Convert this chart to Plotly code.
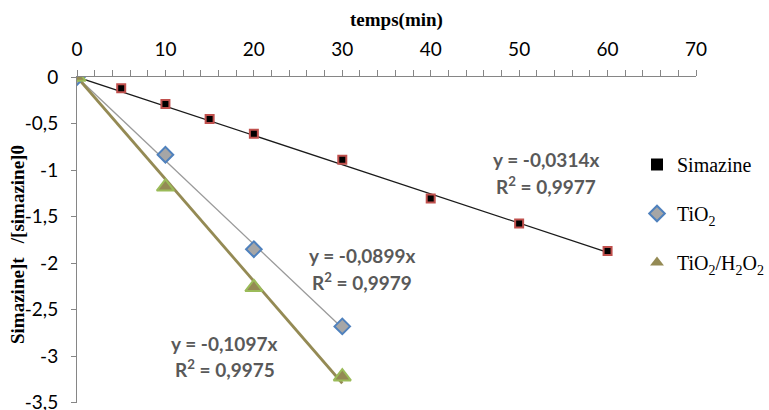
import plotly.graph_objects as go

# Data
sim_x = [0, 5, 10, 15, 20, 30, 40, 50, 60]
sim_y = [0, -0.12, -0.29, -0.45, -0.61, -0.89, -1.306, -1.574, -1.87]
tio2_x = [0, 10, 20, 30]
tio2_y = [0, -0.835, -1.85, -2.68]
h2o2_x = [0, 10, 20, 30]
h2o2_y = [0, -1.18, -2.26, -3.22]

slopes = {"Simazine": -0.0314, "TiO2": -0.0899, "TiO2/H2O2": -0.1097}

x_tickvals = [0, 10, 20, 30, 40, 50, 60, 70]
x_ticktext = ["0", "10", "20", "30", "40", "50", "60", "70"]
y_tickvals = [0, -0.5, -1, -1.5, -2, -2.5, -3, -3.5]
y_ticktext = ["0", "-0,5", "-1", "-1,5", "-2", "-2,5", "-3", "-3,5"]

fig = go.Figure()

# trendlines (y = a x) from 0 to last x
def trend(xs, a):
    xe = [xs[0], xs[-1]]
    return xe, [a * v for v in xe]

tx, ty = trend(sim_x, slopes["Simazine"])
fig.add_trace(go.Scatter(x=tx, y=ty, mode="lines", line=dict(color="#1a1a1a", width=1.3),
                         showlegend=False, hoverinfo="skip"))
tx, ty = trend(tio2_x, slopes["TiO2"])
fig.add_trace(go.Scatter(x=tx, y=ty, mode="lines", line=dict(color="#9a9a9a", width=1.3),
                         showlegend=False, hoverinfo="skip"))
tx, ty = trend(h2o2_x, slopes["TiO2/H2O2"])
fig.add_trace(go.Scatter(x=tx, y=ty, mode="lines", line=dict(color="#948a54", width=2.8),
                         showlegend=False, hoverinfo="skip"))

# markers
fig.add_trace(go.Scatter(x=sim_x, y=sim_y, mode="markers", showlegend=False,
                         marker=dict(symbol="square", size=8, color="#000000",
                                     line=dict(color="#c0504d", width=2))))
fig.add_trace(go.Scatter(x=tio2_x, y=tio2_y, mode="markers", showlegend=False,
                         marker=dict(symbol="diamond", size=12, color="#a6a6a6",
                                     line=dict(color="#4f81bd", width=2))))
fig.add_trace(go.Scatter(x=h2o2_x, y=h2o2_y, mode="markers", showlegend=False,
                         marker=dict(symbol="triangle-up", size=15, color="#948a54",
                                     line=dict(color="#9bbb59", width=2))))

# legend entries
fig.add_trace(go.Scatter(x=[None], y=[None], mode="markers", name="Simazine", legendgroup="a",
                         marker=dict(symbol="square", size=10, color="#000000")))
fig.add_trace(go.Scatter(x=[None], y=[None], mode="markers", name="TiO<sub>2</sub>", legendgroup="b",
                         marker=dict(symbol="diamond", size=12, color="#a6a6a6",
                                     line=dict(color="#4f81bd", width=1.5))))
fig.add_trace(go.Scatter(x=[None], y=[None], mode="markers", legendgroup="c",
                         name="TiO<sub>2</sub>/H<sub>2</sub>O<sub>2</sub>",
                         marker=dict(symbol="triangle-up", size=12, color="#948a54")))

ann_font = dict(family="Lato, Open Sans, sans-serif", size=19, color="#595959")
annotations = [
    dict(x=546, y=159, text="<b>y = -0,0314x</b>"),
    dict(x=546, y=185, text="<b>R<sup>2</sup> = 0,9977</b>"),
    dict(x=362, y=255, text="<b>y = -0,0899x</b>"),
    dict(x=362, y=281, text="<b>R<sup>2</sup> = 0,9979</b>"),
    dict(x=224, y=343, text="<b>y = -0,1097x</b>"),
    dict(x=225, y=368, text="<b>R<sup>2</sup> = 0,9975</b>"),
]
W, H = 769, 410
L, R, T, B = 77, 73, 77, 7
pw, ph = W - L - R, H - T - B
anns = []
for a in annotations:
    anns.append(dict(x=(a["x"] - L) / pw, y=1 - (a["y"] - T) / ph, xref="paper", yref="paper",
                     text=a["text"], showarrow=False, font=ann_font,
                     xanchor="center", yanchor="middle"))
# axis titles
anns.append(dict(x=(396 - L) / pw, y=1 - (20 - T) / ph, xref="paper", yref="paper",
                 text="<b>temps(min)</b>", showarrow=False,
                 font=dict(family="Liberation Serif", size=19, color="#000"),
                 xanchor="center", yanchor="middle"))
anns.append(dict(x=(17 - L) / pw, y=1 - (245 - T) / ph, xref="paper", yref="paper",
                 text="<b>Simazine]t   /[simazine]0</b>", showarrow=False, textangle=-90,
                 font=dict(family="Liberation Serif", size=19, color="#000"),
                 xanchor="center", yanchor="middle"))

tick_font = dict(family="Lato, Open Sans, sans-serif", size=19, color="#000")
fig.update_layout(
    width=W, height=H,
    margin=dict(l=L, r=R, t=T, b=B, autoexpand=False),
    paper_bgcolor="white", plot_bgcolor="white",
    annotations=anns,
    legend=dict(x=(637 - L) / pw, y=1 - (145 - T) / ph, xanchor="left", yanchor="top",
                font=dict(family="Liberation Serif", size=20, color="#000"),
                tracegroupgap=20, itemsizing="constant", bgcolor="rgba(0,0,0,0)"),
    xaxis=dict(range=[0, 70], side="top", tickvals=x_tickvals, ticktext=x_ticktext,
               showgrid=False, zeroline=False, showline=True, linecolor="#868686", linewidth=1,
               ticks="outside", ticklen=6, tickcolor="#868686", tickfont=tick_font,
               ticklabelstandoff=6, ticklabeloverflow="allow",
               minor=dict(dtick=2, ticks="outside", ticklen=6, tickcolor="#868686")),
    yaxis=dict(range=[-3.503, 0], tickvals=y_tickvals, ticktext=y_ticktext,
               showgrid=False, zeroline=False, showline=True, linecolor="#868686", linewidth=1,
               ticks="outside", ticklen=5, tickcolor="#868686", tickfont=tick_font,
               ticklabelstandoff=9, ticklabeloverflow="allow"),
)
fig.write_html("out.html")
